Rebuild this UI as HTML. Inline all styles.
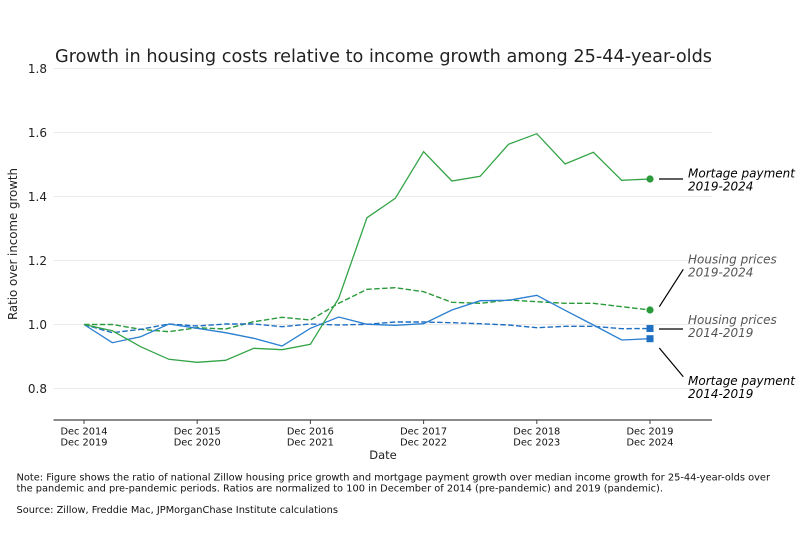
<!DOCTYPE html>
<html><head><meta charset="utf-8"><style>
html,body{margin:0;padding:0;background:#fff;}
svg{display:block;font-family:"DejaVu Sans","Liberation Sans",sans-serif;}
</style></head><body>
<svg width="800" height="548" viewBox="0 0 800 548" xmlns="http://www.w3.org/2000/svg">
<rect width="800" height="548" fill="#fff"/>
<text x="55" y="62" font-size="17.5" fill="#222" textLength="657" lengthAdjust="spacingAndGlyphs">Growth in housing costs relative to income growth among 25-44-year-olds</text>
<g stroke="#ebebeb" stroke-width="1">
<line x1="54" y1="68.5" x2="712" y2="68.5"/>
<line x1="54" y1="132.5" x2="712" y2="132.5"/>
<line x1="54" y1="196.5" x2="712" y2="196.5"/>
<line x1="54" y1="260.5" x2="712" y2="260.5"/>
<line x1="54" y1="324.5" x2="712" y2="324.5"/>
<line x1="54" y1="388.5" x2="712" y2="388.5"/>
</g>
<g font-size="12" fill="#222" text-anchor="end">
<text x="47" y="73">1.8</text>
<text x="47" y="137">1.6</text>
<text x="47" y="201">1.4</text>
<text x="47" y="265">1.2</text>
<text x="47" y="329">1.0</text>
<text x="47" y="393">0.8</text>
</g>
<text transform="translate(17,244) rotate(-90)" font-size="12" fill="#222" text-anchor="middle" textLength="152" lengthAdjust="spacingAndGlyphs">Ratio over income growth</text>
<line x1="53.5" y1="420" x2="712" y2="420" stroke="#444" stroke-width="1.2"/>
<g stroke="#444" stroke-width="1">
<line x1="84" y1="420" x2="84" y2="424"/>
<line x1="197.2" y1="420" x2="197.2" y2="424"/>
<line x1="310.4" y1="420" x2="310.4" y2="424"/>
<line x1="423.6" y1="420" x2="423.6" y2="424"/>
<line x1="536.8" y1="420" x2="536.8" y2="424"/>
<line x1="650" y1="420" x2="650" y2="424"/>
</g>
<g font-size="9.8" fill="#111" text-anchor="middle">
<text x="84" y="434.5">Dec 2014</text><text x="84" y="445.5">Dec 2019</text>
<text x="197.2" y="434.5">Dec 2015</text><text x="197.2" y="445.5">Dec 2020</text>
<text x="310.4" y="434.5">Dec 2016</text><text x="310.4" y="445.5">Dec 2021</text>
<text x="423.6" y="434.5">Dec 2017</text><text x="423.6" y="445.5">Dec 2022</text>
<text x="536.8" y="434.5">Dec 2018</text><text x="536.8" y="445.5">Dec 2023</text>
<text x="650" y="434.5">Dec 2019</text><text x="650" y="445.5">Dec 2024</text>
</g>
<text x="383" y="459" font-size="11.5" fill="#222" text-anchor="middle">Date</text>

<!-- Green dashed: housing prices 2019-2024 -->
<polyline fill="none" stroke="#2a9a3a" stroke-width="1.4" stroke-dasharray="5.5,2.4" points="84,324.5 112.3,324.5 140.6,329.3 168.9,331.7 197.2,327.7 225.5,329 253.8,321.7 282.1,317.3 310.4,320 338.7,303.3 367,289.3 395.3,287.7 423.6,291.7 451.9,302.3 480.2,303.3 508.5,300 536.8,301.7 565.1,303.3 593.4,303.3 621.7,306.7 650,310"/>
<!-- Blue dashed: housing prices 2014-2019 -->
<polyline fill="none" stroke="#1f6fc2" stroke-width="1.4" stroke-dasharray="5.5,2.4" points="84,324.5 112.3,332.7 140.6,329.3 168.9,324 197.2,326 225.5,324 253.8,324 282.1,326.7 310.4,324 338.7,325 367,324.3 395.3,322 423.6,322 451.9,322.7 480.2,323.7 508.5,325 536.8,327.7 565.1,326.3 593.4,326.3 621.7,328.7 650,328.5"/>
<!-- Blue solid: mortgage 2014-2019 -->
<polyline fill="none" stroke="#2a7fd0" stroke-width="1.3" points="84,324.5 112.3,342.7 140.6,336.7 168.9,324 197.2,328.3 225.5,332.7 253.8,338.3 282.1,346 310.4,328.3 338.7,317 367,324.3 395.3,325.3 423.6,323.7 451.9,310 480.2,300.7 508.5,300.3 536.8,295.3 565.1,310.3 593.4,325 621.7,340 650,338.7"/>
<!-- Green solid: mortgage 2019-2024 -->
<polyline fill="none" stroke="#34a447" stroke-width="1.3" points="84,324.5 112.3,330.7 140.6,346.7 168.9,359.3 197.2,362.3 225.5,360.3 253.8,348.3 282.1,349.7 310.4,344.3 338.7,298.3 367,217.7 395.3,198.3 423.6,151.7 451.9,181 480.2,176.3 508.5,144.3 536.8,133.7 565.1,164 593.4,152.3 621.7,180.3 650,179"/>

<circle cx="650" cy="179" r="3.6" fill="#2a9a3a"/>
<circle cx="650" cy="310" r="3.6" fill="#2a9a3a"/>
<rect x="646.5" y="325" width="7" height="7" fill="#1f6fc2"/>
<rect x="646.5" y="335.2" width="7" height="7" fill="#1f6fc2"/>

<g stroke="#000" stroke-width="1.2">
<line x1="659" y1="179" x2="683" y2="179"/>
<line x1="659.3" y1="306.7" x2="683.3" y2="269.3"/>
<line x1="659" y1="329" x2="683" y2="329"/>
<line x1="659.3" y1="348" x2="683.3" y2="376.7"/>
</g>
<g font-size="12" font-style="italic">
<text x="688" y="177.7" fill="#000">Mortage payment</text>
<text x="688" y="190.7" fill="#000">2019-2024</text>
<text x="688" y="263.5" fill="#555">Housing prices</text>
<text x="688" y="276.5" fill="#555">2019-2024</text>
<text x="688" y="324" fill="#555">Housing prices</text>
<text x="688" y="337" fill="#555">2014-2019</text>
<text x="688" y="385" fill="#000">Mortage payment</text>
<text x="688" y="398" fill="#000">2014-2019</text>
</g>

<g font-size="10" fill="#111">
<text x="16.5" y="480.3" textLength="753.5" lengthAdjust="spacingAndGlyphs">Note: Figure shows the ratio of national Zillow housing price growth and mortgage payment growth over median income growth for 25-44-year-olds over</text>
<text x="16.5" y="491.3" textLength="646.5" lengthAdjust="spacingAndGlyphs">the pandemic and pre-pandemic periods. Ratios are normalized to 100 in December of 2014 (pre-pandemic) and 2019 (pandemic).</text>
<text x="16.5" y="513" textLength="321.5" lengthAdjust="spacingAndGlyphs">Source: Zillow, Freddie Mac, JPMorganChase Institute calculations</text>
</g>
</svg>
</body></html>
